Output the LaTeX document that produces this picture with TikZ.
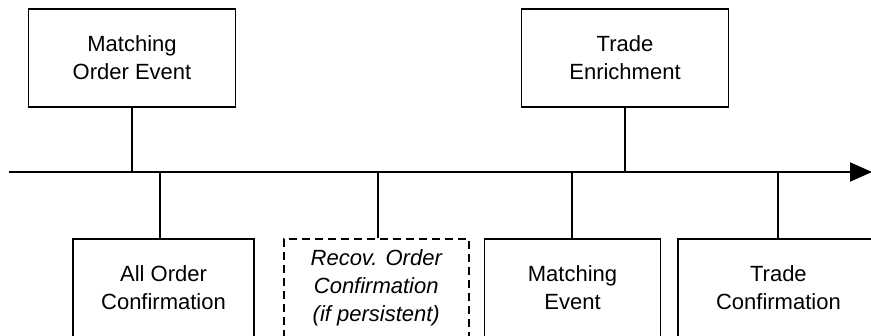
\documentclass[tikz,border=0pt]{standalone}
\usepackage{fontspec}
\setmainfont{Liberation Sans}
\usetikzlibrary{positioning, arrows.meta}

\begin{document}
\begin{tikzpicture}[
  x=1pt, y=-1pt,
  box/.style={rectangle, draw, line width=1.9pt, minimum height=98pt, inner sep=0pt, align=center, font=\fontsize{22}{28}\selectfont},
  dashbox/.style={box, line width=1.6pt, dash pattern=on 8pt off 5pt, font=\fontsize{22}{28}\selectfont\itshape},
  link/.style={line width=2pt},
  arrow/.style={-{Triangle[length=22pt, width=19pt]}, line width=1.9pt}
]
  \clip (0,0) rectangle (871,336);

  % Time axis
  \coordinate (tstart) at (9,172);
  \coordinate (tend) at (872,172);
  \draw[arrow] (tstart) -- (tend);

  % Events above the axis
  \node[box, minimum width=207pt] (matchorder) at (132,58) {Matching\\Order Event};
  \node[box, minimum width=207pt] (enrich) at (625,58) {Trade\\Enrichment};

  % Messages below the axis
  \node[box, minimum width=181pt] (allconf) at (163.5,288) {All Order\\Confirmation};
  \node[dashbox, minimum width=185pt, right=28pt of allconf] (recovconf) {Recov. Order\\Confirmation\\(if persistent)};
  \node[box, minimum width=176pt, right=14pt of recovconf] (matchev) {Matching\\Event};
  \node[box, minimum width=200pt, right=16pt of matchev] (tradeconf) {Trade\\Confirmation};

  % Links to the axis
  \draw[link] (matchorder.south) -- (matchorder.south |- tstart);
  \draw[link] (enrich.south) -- (enrich.south |- tstart);
  \draw[link] ([xshift=-3.5pt]allconf.north) -- ([xshift=-3.5pt]allconf.north |- tstart);
  \draw[link] ([xshift=1.5pt]recovconf.north) -- ([xshift=1.5pt]recovconf.north |- tstart);
  \draw[link] ([xshift=-1pt]matchev.north) -- ([xshift=-1pt]matchev.north |- tstart);
  \draw[link] (tradeconf.north) -- (tradeconf.north |- tstart);

\end{tikzpicture}
\end{document}
